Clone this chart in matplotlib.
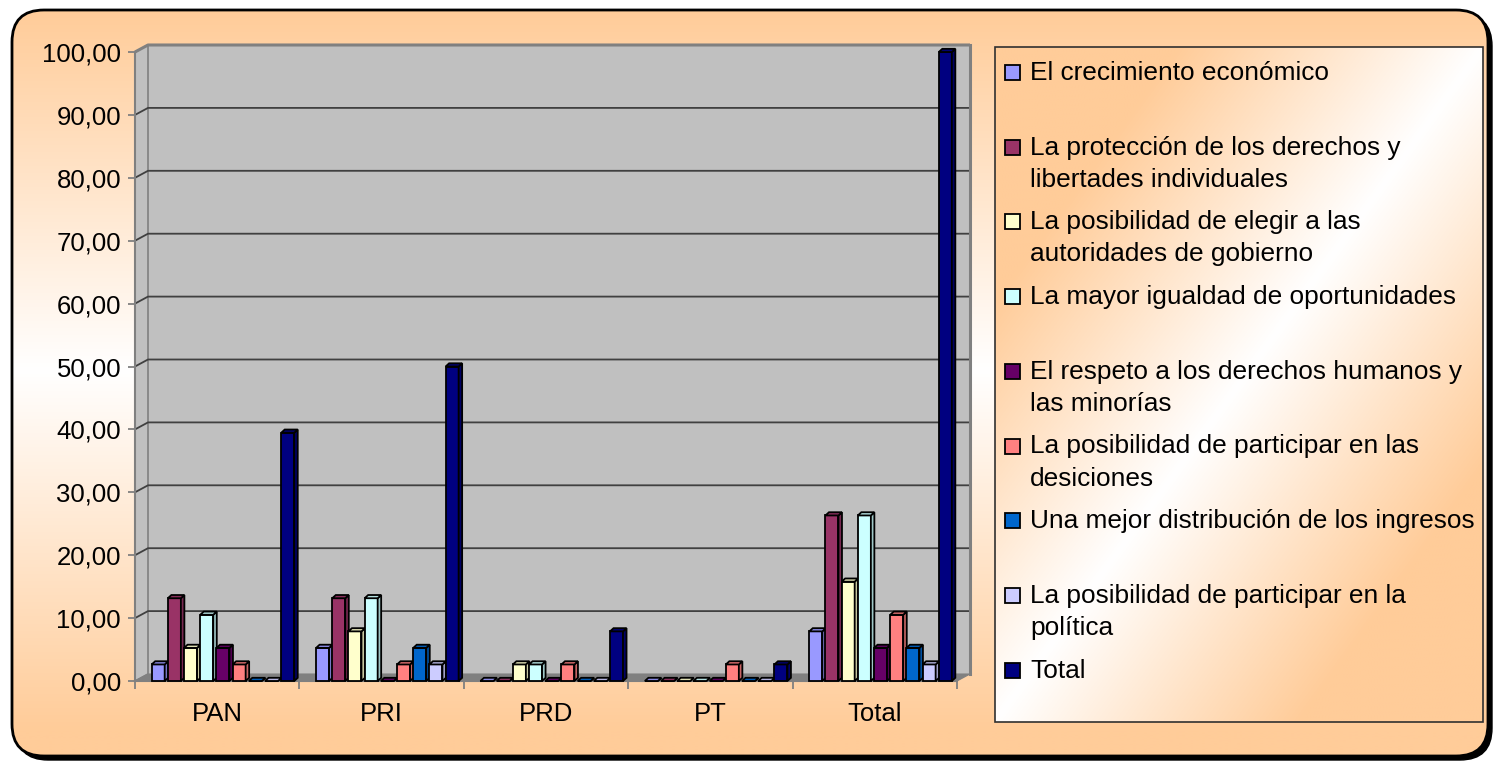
import numpy as np
import matplotlib
matplotlib.use('Agg')
import matplotlib.pyplot as plt
from matplotlib.patches import Polygon, FancyBboxPatch, Rectangle
from matplotlib.ticker import FuncFormatter, FixedLocator

# ---------------- data ----------------
categories = ['PAN', 'PRI', 'PRD', 'PT', 'Total']
series_names = [
    'El crecimiento económico',
    'La protección de los derechos y\nlibertades individuales',
    'La posibilidad de elegir a las\nautoridades de gobierno',
    'La mayor igualdad de oportunidades',
    'El respeto a los derechos humanos y\nlas minorías',
    'La posibilidad de participar en las\ndesiciones',
    'Una mejor distribución de los ingresos',
    'La posibilidad de participar en la\npolítica',
    'Total',
]
crecimiento = [2.63, 5.26, 0.00, 0.00, 7.89]
proteccion = [13.16, 13.16, 0.00, 0.00, 26.32]
elegir = [5.26, 7.89, 2.63, 0.00, 15.79]
igualdad = [10.53, 13.16, 2.63, 0.00, 26.32]
respeto = [5.26, 0.00, 0.00, 0.00, 5.26]
participar_decisiones = [2.63, 2.63, 2.63, 2.63, 10.53]
distribucion = [0.00, 5.26, 0.00, 0.00, 5.26]
participar_politica = [0.00, 2.63, 0.00, 0.00, 2.63]
total = [39.47, 50.00, 7.89, 2.63, 100.00]
series_values = [crecimiento, proteccion, elegir, igualdad, respeto,
                 participar_decisiones, distribucion, participar_politica, total]
colors = ['#9999FF', '#993366', '#FFFFCC', '#CCFFFF', '#660066',
          '#FF8080', '#0066CC', '#CCCCFF', '#000080']
yticks = [0, 10, 20, 30, 40, 50, 60, 70, 80, 90, 100]

plt.rcParams['font.family'] = ['Liberation Sans', 'DejaVu Sans']
FS = 18.5
FSL = 18.9
W, H = 1494, 764
fig = plt.figure(figsize=(W / 100, H / 100), dpi=100)
fig.patch.set_facecolor('white')

# ---------------- background (pixel coordinates) ----------------
bg = fig.add_axes([0, 0, 1, 1])
bg.set_xlim(0, W)
bg.set_ylim(H, 0)
bg.axis('off')
orange = np.array([255, 204, 153]) / 255.0
white = np.array([1.0, 1.0, 1.0])

fx0, fy0, fx1, fy1 = 12, 10, 1488, 756
shadow = FancyBboxPatch((fx0 + 4, fy0 + 4), fx1 - fx0, fy1 - fy0,
                        boxstyle='round,pad=0,rounding_size=32',
                        fc='black', ec='black', lw=1, zorder=0.5)
bg.add_patch(shadow)
frame = FancyBboxPatch((fx0, fy0), fx1 - fx0, fy1 - fy0,
                       boxstyle='round,pad=0,rounding_size=32',
                       fc='none', ec='black', lw=2, zorder=3)
bg.add_patch(frame)
ys = np.linspace(fy0, fy1, 400)
t = np.clip(np.abs(ys - 370) / 360.0, 0, 1)[:, None]
grad = (white * (1 - t) + orange * t)
img = np.repeat(grad[:, None, :], 2, axis=1)
im = bg.imshow(img, extent=[fx0, fx1, fy1, fy0], origin='upper', zorder=1,
               interpolation='bilinear')
clip = FancyBboxPatch((fx0, fy0), fx1 - fx0, fy1 - fy0,
                      boxstyle='round,pad=0,rounding_size=32',
                      fc='none', ec='none', transform=bg.transData)
bg.add_patch(clip)
im.set_clip_path(clip)

# legend box
lx0, ly0, lx1, ly1 = 995, 47, 1483, 722
uu, vv = np.meshgrid(np.linspace(0, 1, 300), np.linspace(0, 1, 300))
m = np.clip(np.abs(uu + vv - 1) * 1.6, 0, 1)[..., None]
limg = white * (1 - m) + orange * m
bg.imshow(limg, extent=[lx0, lx1, ly1, ly0], origin='upper', zorder=2,
          interpolation='bilinear')
bg.add_patch(Rectangle((lx0, ly0), lx1 - lx0, ly1 - ly0, fc='none',
                       ec='#303030', lw=1.2, zorder=4))
bg.set_aspect('auto')
bg.set_xlim(0, W)
bg.set_ylim(H, 0)

for i, (name, col) in enumerate(zip(series_names, colors)):
    yb = 80 + i * 74.7
    bg.add_patch(Rectangle((1005, yb - 15), 15, 15, fc=col, ec='black',
                           lw=1.3, zorder=5))
    for k, line in enumerate(name.split('\n')):
        bg.text(1030, yb + k * 32, line, fontsize=FSL, va='baseline',
                ha='left', zorder=5, color='black')

# ---------------- plot area ----------------
px0, px1, py0, py1 = 135, 957, 681, 52
ax = fig.add_axes([px0 / W, (H - py0) / H, (px1 - px0) / W, (py0 - py1) / H])
ax.patch.set_visible(False)
ax.set_xlim(-0.5, len(categories) - 0.5)
ax.set_ylim(0, 100)
xs_px = (px1 - px0) / len(categories)
ys_px = (py0 - py1) / 100.0
dxw = 13 / xs_px
dyw = 7 / ys_px
xl, xr = -0.5, len(categories) - 0.5

wall_c = '#C0C0C0'
ax.add_patch(Polygon([(xl + dxw, dyw), (xr + dxw, dyw), (xr + dxw, 100 + dyw),
                      (xl + dxw, 100 + dyw)], closed=True, fc=wall_c,
                     ec='none', zorder=0.5, clip_on=False))
ax.add_patch(Polygon([(xl, 0), (xl + dxw, dyw), (xl + dxw, 100 + dyw), (xl, 100)],
                     closed=True, fc=wall_c, ec='#808080', lw=1.2,
                     zorder=0.6, clip_on=False))
ax.add_patch(Polygon([(xl, 0), (xr, 0), (xr + dxw, dyw), (xl + dxw, dyw)],
                     closed=True, fc='#808080', ec='#808080', lw=0.8,
                     zorder=0.7, clip_on=False))
for v in yticks[1:]:
    lc = '#404040' if v < 100 else '#808080'
    lw = 1.3 if v < 100 else 2.2
    ax.plot([xl, xl + dxw, xr + dxw], [v, v + dyw, v + dyw], color=lc, lw=lw,
            zorder=0.8, clip_on=False, solid_capstyle='butt')
ax.plot([xr + dxw, xr + dxw], [dyw, 100 + dyw], color='#808080', lw=2.2,
        zorder=0.8, clip_on=False)

# bars (pseudo 3-D)
n = len(series_names)
pitch = 0.0985
bw = 13 / xs_px
sx = 3.5 / xs_px
sy = 3.2 / ys_px
shift = 0.035
x = np.arange(len(categories))


def shade(c, f):
    rgb = np.array(matplotlib.colors.to_rgb(c))
    return tuple(np.clip(rgb * f, 0, 1))


for i in range(n):
    xc = x + (i - (n - 1) / 2) * pitch + shift
    vals = series_values[i]
    col = colors[i]
    ax.bar(xc, vals, width=bw, color=col, edgecolor='black', linewidth=1.3,
           zorder=3 + i * 0.01, clip_on=False)
    for xi, v in zip(xc, vals):
        x0 = xi - bw / 2
        x1 = xi + bw / 2
        ax.add_patch(Polygon([(x1, 0), (x1 + sx, sy), (x1 + sx, v + sy), (x1, v)],
                             closed=True, fc=shade(col, 0.78), ec='black',
                             lw=1.3, zorder=3 + i * 0.01, clip_on=False))
        ax.add_patch(Polygon([(x0, v), (x1, v), (x1 + sx, v + sy), (x0 + sx, v + sy)],
                             closed=True, fc=shade(col, 0.88), ec='black',
                             lw=1.3, zorder=3 + i * 0.01, clip_on=False))

# axes styling
for s in ['top', 'right']:
    ax.spines[s].set_visible(False)
ax.spines['left'].set_color('#808080')
ax.spines['bottom'].set_color('#808080')
ax.spines['left'].set_linewidth(1.5)
ax.spines['bottom'].set_linewidth(1.5)
ax.spines['left'].set_zorder(1)
ax.set_yticks(yticks)
ax.yaxis.set_major_formatter(FuncFormatter(lambda v, p: f'{v:.2f}'.replace('.', ',')))
ax.tick_params(axis='y', direction='out', length=5, width=1.3, color='#808080',
               labelsize=FS, pad=5)
ax.xaxis.set_major_locator(FixedLocator(np.arange(len(categories) + 1) - 0.5))
ax.xaxis.set_minor_locator(FixedLocator(x))
ax.xaxis.set_major_formatter(FuncFormatter(lambda v, p: ''))
ax.set_xticklabels(categories, minor=True)
ax.tick_params(axis='x', which='major', direction='out', length=6, width=1.3,
               color='#808080')
ax.tick_params(axis='x', which='minor', length=0, labelsize=FS, pad=15)

fig.savefig('out.png', dpi=100)
